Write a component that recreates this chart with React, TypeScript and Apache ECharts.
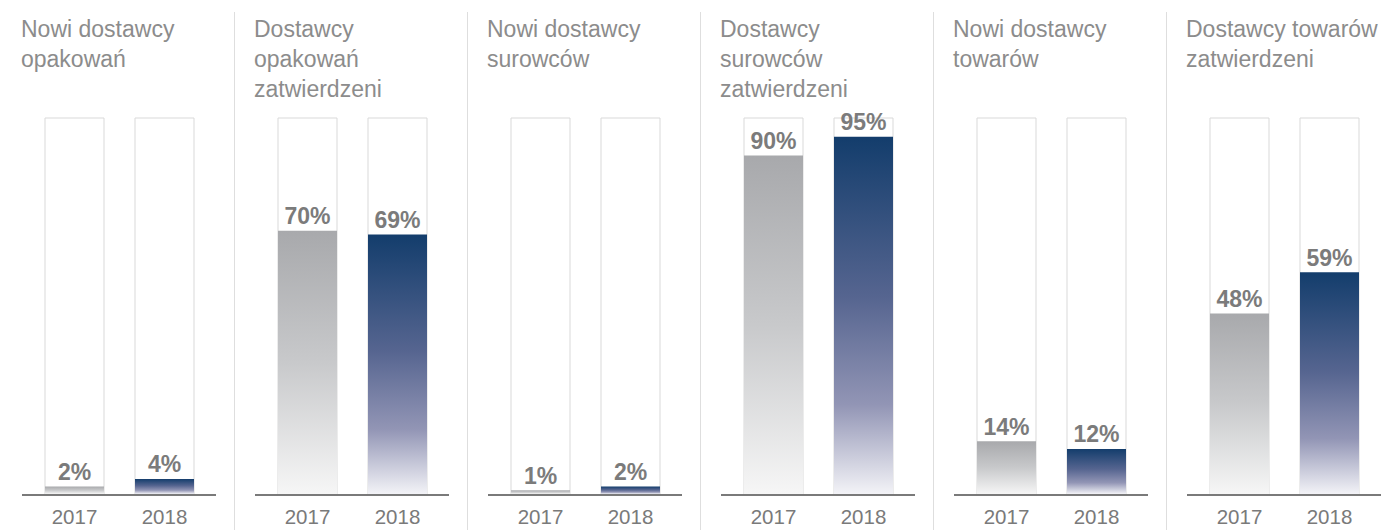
import React, { useEffect, useRef } from "react";
import * as echarts from "echarts";

const titles: string[][] = [
  ["Nowi dostawcy", "opakowań"],
  ["Dostawcy", "opakowań", "zatwierdzeni"],
  ["Nowi dostawcy", "surowców"],
  ["Dostawcy", "surowców", "zatwierdzeni"],
  ["Nowi dostawcy", "towarów"],
  ["Dostawcy towarów", "zatwierdzeni"],
];
const years = ["2017", "2018"];
const values2017 = [2, 70, 1, 90, 14, 48];
const values2018 = [4, 69, 2, 95, 12, 59];

const PANEL_W = 233;
const GRID_TOP = 118;
const GRID_BOTTOM = 36;
const H = 530;

const grayGrad = () =>
  new echarts.graphic.LinearGradient(0, 0, 0, 1, [
    { offset: 0, color: "#a8a9ac" },
    { offset: 0.5, color: "#c8c9cb" },
    { offset: 1, color: "#f6f6f6" },
  ]);
const blueGrad = () =>
  new echarts.graphic.LinearGradient(0, 0, 0, 1, [
    { offset: 0, color: "#133d6c" },
    { offset: 0.45, color: "#566590" },
    { offset: 0.75, color: "#9295b5" },
    { offset: 1, color: "#f3f3f7" },
  ]);

export default function App() {
  const ref = useRef<HTMLDivElement>(null);
  useEffect(() => {
    if (!ref.current) return;
    const chart = echarts.init(ref.current, undefined, { renderer: "svg" });
    const grids: any[] = [];
    const xAxes: any[] = [];
    const yAxes: any[] = [];
    const series: any[] = [];
    const graphics: any[] = [];
    titles.forEach((t, i) => {
      const off = PANEL_W * i;
      grids.push({ left: off + 29.5, width: 180, top: GRID_TOP, bottom: GRID_BOTTOM });
      xAxes.push({
        type: "category",
        gridIndex: i,
        data: years,
        axisLine: { show: false },
        axisTick: { show: false },
        axisLabel: { color: "#7a7a7a", fontSize: 20.5, margin: 12, fontFamily: "Liberation Sans" },
      });
      yAxes.push({
        type: "value",
        gridIndex: i,
        min: 0,
        max: 100,
        show: false,
        splitLine: { show: false },
      });
      series.push({
        type: "bar",
        xAxisIndex: i,
        yAxisIndex: i,
        barWidth: 59,
        showBackground: true,
        backgroundStyle: { color: "#ffffff", borderColor: "#d9d9d9", borderWidth: 1 },
        label: {
          show: true,
          position: "top",
          distance: 3,
          formatter: "{c}%",
          color: "#7b7b7b",
          fontSize: 23,
          fontWeight: "bold",
          fontFamily: "Liberation Sans",
        },
        data: [
          { value: values2017[i], itemStyle: { color: grayGrad() } },
          { value: values2018[i], itemStyle: { color: blueGrad() } },
        ],
      });
      graphics.push({
        type: "text",
        left: off + 21,
        top: 14,
        style: {
          text: t.join("\n"),
          fill: "#8c8c8c",
          fontSize: 23,
          lineHeight: 30,
          fontFamily: "Liberation Sans",
        },
      });
      graphics.push({
        type: "line",
        shape: { x1: off + 22, y1: H - GRID_BOTTOM + 1, x2: off + 216, y2: H - GRID_BOTTOM + 1 },
        style: { stroke: "#7a7a7a", lineWidth: 2 },
        z: 10,
      });
      if (i < titles.length - 1) {
        graphics.push({
          type: "line",
          shape: { x1: off + 234.5, y1: 12, x2: off + 234.5, y2: H },
          style: { stroke: "#dedede", lineWidth: 1 },
        });
      }
    });
    chart.setOption({
      animation: false,
      backgroundColor: "#ffffff",
      grid: grids,
      xAxis: xAxes,
      yAxis: yAxes,
      series,
      graphic: graphics,
    });
    return () => chart.dispose();
  }, []);
  return (
    <div
      ref={ref}
      style={{ position: "fixed", left: 0, top: 0, width: 1392, height: 530 }}
    />
  );
}
